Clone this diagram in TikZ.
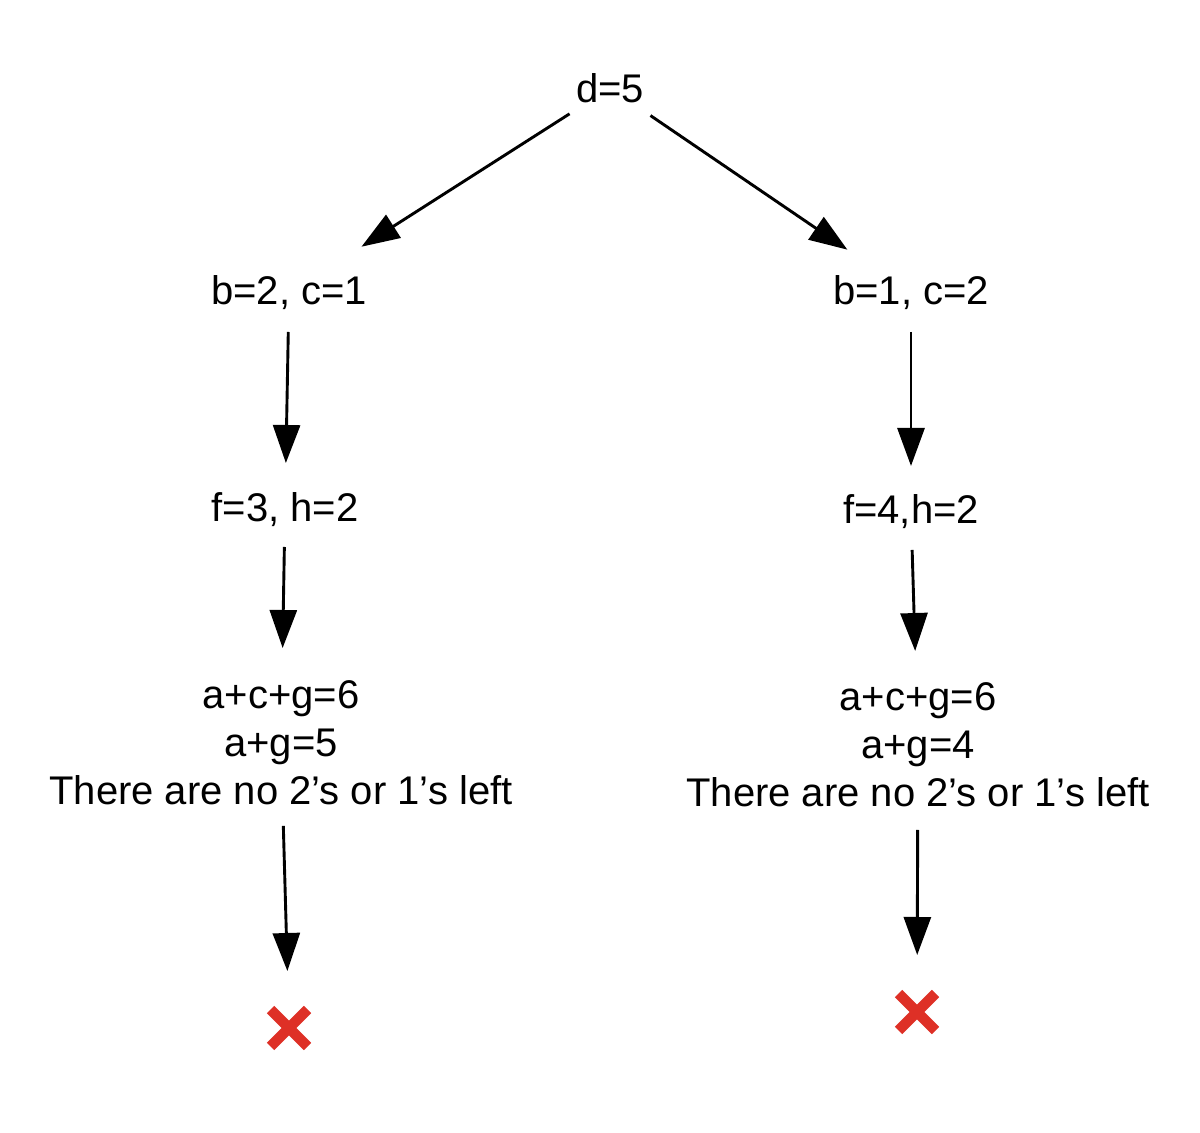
\documentclass[tikz,border=0pt]{standalone}
\usepackage{fontspec}
\setmainfont{Liberation Sans}
\usetikzlibrary{arrows.meta,shapes.misc}
\definecolor{xred}{RGB}{222,48,38}
\begin{document}
\begin{tikzpicture}[x=0.5pt,y=-0.5pt,
  lbl/.style={inner sep=0pt,align=center,font=\fontsize{20}{24}\selectfont},
  arr/.style={line width=1.45pt,-{Triangle[length=19pt,width=13.5pt]}},
  xmark/.style={cross out,draw=xred,line width=5.2pt,minimum size=18.5pt,inner sep=0pt,outer sep=0pt}]
\useasboundingbox (0,0) rectangle (1200,1133);
\node[lbl] (d) at (610,88) {d=5};
\node[lbl] (b1) at (289,293) {b=2, c=1};
\node[lbl] (b2) at (911,293) {b=1, c=2};
\node[lbl] (f1) at (285,510) {f=3, h=2};
\node[lbl] (f2) at (911,512) {f=4,h=2};
\node[lbl] (m1) at (281,743) {a+c+g=6\\a+g=5\\There are no 2’s or 1’s left};
\node[lbl] (m2) at (918,745) {a+c+g=6\\a+g=4\\There are no 2’s or 1’s left};
\node[xmark] (x1) at (289,1028) {};
\node[xmark] (x2) at (917,1012) {};
\draw[arr,shorten <=24pt,shorten >=43pt] (d.center) -- (b1.center);
\draw[arr,shorten <=24.5pt,shorten >=38.5pt] (d.center) -- (b2.center);
\draw[arr,shorten <=19.5pt,shorten >=23.5pt] (b1.center) -- (f1.center);
\draw[arr,shorten <=19.5pt,shorten >=23pt] (b2.center) -- (f2.center);
\draw[arr,shorten <=18.5pt,shorten >=47.5pt] (f1.center) -- (m1.center);
\draw[arr,shorten <=19pt,shorten >=47pt] (f2.center) -- (m2.center);
\draw[arr,shorten <=41.5pt,shorten >=28.5pt] (m1.center) -- (x1.center);
\draw[arr,shorten <=42.5pt,shorten >=28.5pt] (m2.center) -- (x2.center);
\end{tikzpicture}
\end{document}
